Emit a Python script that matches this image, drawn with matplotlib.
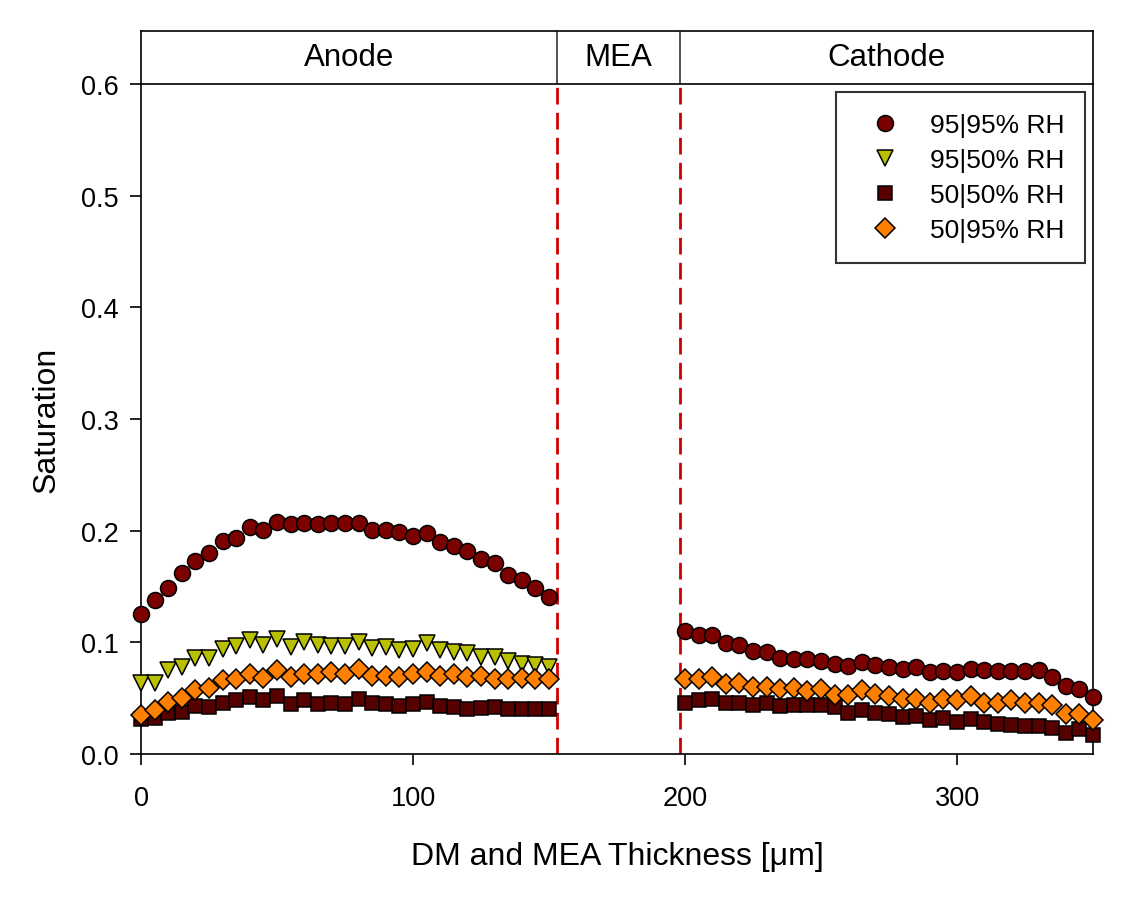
import numpy as np
import matplotlib.pyplot as plt

plt.rcParams['font.family'] = ['Liberation Sans', 'DejaVu Sans']

# positions [um]
x_anode = np.arange(0, 151, 5)
x_cathode = np.arange(200, 351, 5)

# 95|95% RH
s9595_anode = [0.125, 0.138, 0.149, 0.162, 0.173, 0.180, 0.191, 0.193, 0.203, 0.201,
               0.208, 0.206, 0.207, 0.206, 0.207, 0.207, 0.207, 0.201, 0.201, 0.199,
               0.195, 0.198, 0.190, 0.186, 0.182, 0.175, 0.171, 0.160, 0.156, 0.149, 0.141]
s9595_cathode = [0.110, 0.107, 0.107, 0.099, 0.098, 0.092, 0.091, 0.086, 0.085, 0.085,
                 0.083, 0.081, 0.079, 0.082, 0.080, 0.078, 0.076, 0.078, 0.073, 0.074,
                 0.073, 0.076, 0.075, 0.074, 0.074, 0.074, 0.075, 0.069, 0.061, 0.058, 0.051]

# 95|50% RH
s9550_anode = [0.064, 0.064, 0.075, 0.078, 0.086, 0.086, 0.094, 0.097, 0.102, 0.098,
               0.103, 0.096, 0.100, 0.098, 0.097, 0.097, 0.100, 0.095, 0.096, 0.093,
               0.094, 0.099, 0.093, 0.091, 0.090, 0.087, 0.087, 0.083, 0.081, 0.080, 0.078]

# 50|50% RH
s5050_anode = [0.031, 0.032, 0.037, 0.038, 0.043, 0.042, 0.046, 0.048, 0.051, 0.048,
               0.052, 0.045, 0.048, 0.045, 0.046, 0.045, 0.049, 0.046, 0.045, 0.043,
               0.045, 0.047, 0.043, 0.042, 0.040, 0.041, 0.042, 0.040, 0.040, 0.040, 0.040]
s5050_cathode = [0.046, 0.048, 0.049, 0.046, 0.046, 0.044, 0.046, 0.043, 0.044, 0.044,
                 0.044, 0.042, 0.037, 0.039, 0.037, 0.036, 0.033, 0.034, 0.030, 0.032,
                 0.029, 0.031, 0.029, 0.027, 0.026, 0.025, 0.025, 0.023, 0.019, 0.022, 0.017]

# 50|95% RH
s5095_anode = [0.035, 0.039, 0.047, 0.050, 0.057, 0.059, 0.066, 0.067, 0.072, 0.068,
               0.075, 0.069, 0.072, 0.072, 0.073, 0.072, 0.076, 0.070, 0.070, 0.069,
               0.072, 0.073, 0.070, 0.072, 0.069, 0.070, 0.067, 0.067, 0.068, 0.067, 0.067]
s5095_cathode = [0.067, 0.067, 0.069, 0.063, 0.064, 0.060, 0.060, 0.058, 0.059, 0.056,
                 0.058, 0.053, 0.053, 0.057, 0.054, 0.052, 0.049, 0.049, 0.046, 0.049,
                 0.048, 0.052, 0.046, 0.046, 0.048, 0.046, 0.046, 0.044, 0.036, 0.036, 0.030]

regions = ["Anode", "MEA", "Cathode"]
bounds = [0, 153, 198, 350]

fig = plt.figure(figsize=(11.43, 9.03), dpi=100)
ax = fig.add_axes([0.1234, 0.1639, 0.8329, 0.7420])
hdr = fig.add_axes([0.1234, 0.9059, 0.8329, 0.0592])

edge = dict(linestyle="none", markeredgecolor="black", markeredgewidth=1.1, clip_on=False, zorder=3)
ax.plot(x_anode, s9595_anode, "o", color="#7b0000", markersize=11.5, label="95|95% RH", **edge)
ax.plot(x_cathode, s9595_cathode, "o", color="#7b0000", markersize=11.5, **edge)
ax.plot(x_anode, s9550_anode, "v", color="#b8c000", markersize=12, label="95|50% RH", **edge)
ax.plot(x_anode, s5050_anode, "s", color="#560000", markersize=10.5, label="50|50% RH", **edge)
ax.plot(x_cathode, s5050_cathode, "s", color="#560000", markersize=10.5, **edge)
ax.plot(x_anode, s5095_anode, "D", color="#ff8000", markersize=10, label="50|95% RH", **edge)
ax.plot(x_cathode, s5095_cathode, "D", color="#ff8000", markersize=10, **edge)

for b in bounds[1:3]:
    ax.axvline(b, color="#cc0000", linestyle=(0, (6, 3)), linewidth=2, zorder=1)

ax.set_xlim(0, 350)
ax.set_ylim(0, 0.6)
ax.set_xticks([0, 100, 200, 300])
ax.set_yticks(np.arange(0, 0.61, 0.1))
ax.yaxis.set_major_formatter(plt.FormatStrFormatter("%.1f"))
ax.tick_params(direction="out", length=8, width=1.2, labelsize=19.5, pad=8)
ax.tick_params(axis="x", pad=14)
ax.spines["top"].set_visible(False)
for s in ax.spines.values():
    s.set_linewidth(1.2)
ax.set_xlabel("DM and MEA Thickness [\u03bcm]", fontsize=23, labelpad=22)
ax.set_ylabel("Saturation", fontsize=23, labelpad=14)

leg = ax.legend(loc="upper right", fontsize=19, frameon=True, fancybox=False,
                edgecolor="black", borderpad=0.8, handletextpad=0.63, labelspacing=0.42,
                borderaxespad=0.3, handlelength=2.1)
leg.get_frame().set_linewidth(1.5)

hdr.set_xlim(0, 350)
hdr.set_ylim(0, 1)
hdr.set_xticks([])
hdr.set_yticks([])
for s in hdr.spines.values():
    s.set_linewidth(1.2)
for b in bounds[1:3]:
    hdr.axvline(b, color="#333333", linewidth=1.2)
for i, name in enumerate(regions):
    hdr.text((bounds[i] + bounds[i + 1]) / 2, 0.5, name, ha="center", va="center", fontsize=22.5)

fig.savefig("out.png", dpi=100)
